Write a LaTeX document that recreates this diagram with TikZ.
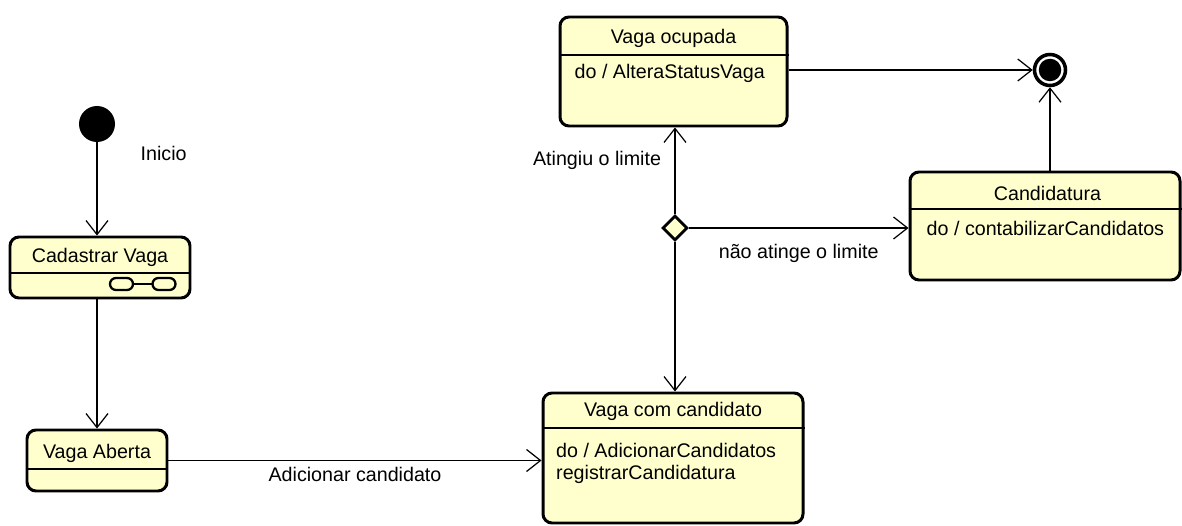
\documentclass[tikz,border=0pt]{standalone}
\usepackage{fontspec}
\setmainfont{Liberation Sans}
\usetikzlibrary{arrows.meta,shapes.geometric}
\definecolor{statefill}{RGB}{255,255,206}
\tikzset{
  >={Straight Barb[length=2.8mm,width=4.4mm]},
}
\tikzstyle{state}=[draw,line width=1.7pt,rounded corners=1.8mm,fill=statefill,inner sep=0pt]
\tikzstyle{trans}=[line width=0.7pt,->]
\tikzstyle{sep}=[line width=0.6pt]
\tikzstyle{every node}=[font=\fontsize{11.2}{13.5}\selectfont]

\begin{document}
\begin{tikzpicture}
    \useasboundingbox (0,0) rectangle (23.64,10.5);
    % start and end
    \node[circle,fill,minimum size=0.72cm,inner sep=0pt] (ini) at (1.94,8.02) {};
    \node[anchor=west] (lblini) at (2.69,7.44) {Inicio};
    \node[circle,draw,line width=2pt,fill=white,minimum size=0.62cm,inner sep=0pt] (fim) at (21.0,9.1) {};
    \fill (fim) circle (0.225);
    % states
    \node[state,minimum width=3.6cm,minimum height=1.22cm] (cad) at (2.0,5.15) {};
    \node (cadt) at (2.0,5.36) {Cadastrar Vaga};
    \draw[sep] (cad.west |- 0,5.04) -- (cad.east |- 0,5.04);
    \draw[line width=1.3pt,rounded corners=0.12cm] (2.2,4.7) rectangle (2.66,4.94) (3.05,4.7) rectangle (3.51,4.94);
    \draw[line width=1.3pt] (2.66,4.82) -- (3.05,4.82);
    \node[state,minimum width=2.8cm,minimum height=1.22cm] (abe) at (1.94,1.29) {};
    \node (abet) at (1.94,1.44) {Vaga Aberta};
    \draw[sep] (abe.west |- 0,1.12) -- (abe.east |- 0,1.12);
    \node[state,minimum width=5.2cm,minimum height=2.6cm] (com) at (13.46,1.34) {};
    \node (comt) at (13.46,2.28) {Vaga com candidato};
    \draw[sep] (com.west |- 0,1.94) -- (com.east |- 0,1.94);
    \node[anchor=west] (comb) at (11.0,1.5) {do / AdicionarCandidatos};
    \node[anchor=west] (comc) at (11.0,1.02) {registrarCandidatura};
    \node[state,minimum width=4.54cm,minimum height=2.18cm] (ocu) at (13.47,9.07) {};
    \node (ocut) at (13.47,9.74) {Vaga ocupada};
    \draw[sep] (ocu.west |- 0,9.4) -- (ocu.east |- 0,9.4);
    \node[anchor=west] (ocub) at (11.37,9.04) {do / AlteraStatusVaga};
    \node[state,minimum width=5.4cm,minimum height=2.16cm] (cnd) at (20.9,5.98) {};
    \node (cndt) at (20.95,6.64) {Candidatura};
    \draw[sep] (cnd.west |- 0,6.32) -- (cnd.east |- 0,6.32);
    \node[anchor=west] (cndb) at (18.41,5.94) {do / contabilizarCandidatos};
    \node[diamond,draw,line width=1.6pt,fill=statefill,minimum width=0.5cm,minimum height=0.5cm,inner sep=0pt] (dec) at (13.5,5.94) {};
    % transitions
    \draw[trans] (ini) -- (ini |- cad.north);
    \draw[trans] (ini |- cad.south) -- (abe.north);
    \draw[trans] (abe.east) -- (abe.east -| com.west) node[midway,below] (lbladd) {Adicionar candidato};
    \draw[trans] (dec.south) -- (dec |- com.north);
    \draw[trans] (dec.north) -- (dec |- ocu.south) node[pos=0.62,left=0.15cm] (lblsim) {Atingiu o limite};
    \draw[trans] (dec.east) -- (dec -| cnd.west) node[midway,below=0.2cm] (lblnao) {não atinge o limite};
    \draw[trans] (fim -| ocu.east) -- (fim.west);
    \draw[trans] (fim |- cnd.north) -- (fim.south);
  \end{tikzpicture}
\end{document}
